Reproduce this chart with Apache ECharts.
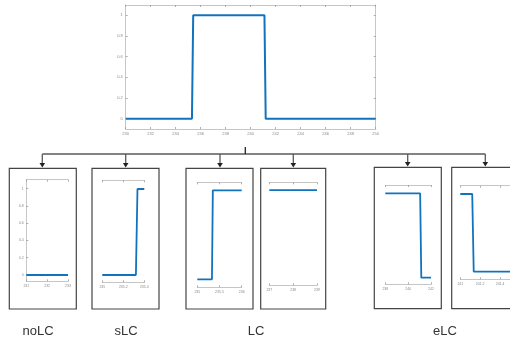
<!DOCTYPE html>
<html>
<head>
<meta charset="utf-8">
<script src="https://cdn.jsdelivr.net/npm/echarts@6/dist/echarts.min.js"></script>
<style>
  html, body { margin: 0; padding: 0; background: #fff; }
  #c { width: 510px; height: 343px; }
</style>
</head>
<body>
<div id="c"></div>
<script>
// Full rectangular pulse
const pulseX = [230, 235.3, 235.4, 241.1, 241.2, 250];
const pulseY = [0, 0, 1, 1, 0, 0];
const pulseXTicks = [230, 232, 234, 236, 238, 240, 242, 244, 246, 248, 250];
const pulseYTicks = [0, 0.2, 0.4, 0.6, 0.8, 1];

// noLC: window before the pulse
const noLCX = [231, 233];
const noLCY = [0, 0];
const noLCXTicks = [231, 232, 233];
const noLCYTicks = [0, 0.2, 0.4, 0.6, 0.8, 1];

// sLC: window ending just after the rising edge
const sLCX = [235, 235.32, 235.335, 235.4];
const sLCY = [0, 0, 1, 1];
const sLCXTicks = [235, 235.2, 235.4];

// LC: window containing the rising edge, and a window inside the pulse
const lcAX = [235, 235.33, 235.35, 236];
const lcAY = [0, 0, 1, 1];
const lcAXTicks = [235, 235.5, 236];
const lcBX = [237, 239];
const lcBY = [1, 1];
const lcBXTicks = [237, 238, 239];

// eLC: windows containing the falling edge
const eLCAX = [238, 241.05, 241.15, 242];
const eLCAY = [1, 1, 0, 0];
const eLCAXTicks = [238, 240, 242];
const eLCBX = [241, 241.12, 241.135, 241.5];
const eLCBY = [1, 1, 0, 0];
const eLCBXTicks = [241, 241.2, 241.4];

const groupNames = ['noLC', 'sLC', 'LC', 'eLC'];

const LINE = '#1273bd';
const AXIS = '#c6c6c6';
const TICK = '#9a9a9a';
const LABEL = '#8a8a8a';

const grids = [], xAxes = [], yAxes = [], series = [];

function zip(xs, ys) { return xs.map((x, i) => [x, ys[i]]); }

function addPanel(box, xs, ys, xRange, xTicks, yRange, yTicks, o) {
  const gi = grids.length;
  grids.push({ left: box[0], top: box[1], width: box[2], height: box[3], containLabel: false });
  const tick = { show: true, inside: true, length: 2, lineStyle: { color: TICK, width: 0.8 }, customValues: xTicks };
  const fmt = v => String(Math.round(v * 1000) / 1000);
  // bottom axis with labels
  xAxes.push({
    type: 'value', gridIndex: gi, position: 'bottom', min: xRange[0], max: xRange[1],
    axisLine: { show: true, onZero: false, lineStyle: { color: AXIS, width: 1 } },
    axisTick: tick,
    axisLabel: { show: true, fontSize: o.fs, color: LABEL, margin: o.xm, customValues: xTicks, formatter: fmt,
                 fontFamily: 'Liberation Sans' },
    splitLine: { show: false }
  });
  // top box edge with mirrored ticks
  xAxes.push({
    type: 'value', gridIndex: gi, position: 'top', min: xRange[0], max: xRange[1],
    axisLine: { show: true, onZero: false, lineStyle: { color: AXIS, width: 1 } },
    axisTick: tick,
    axisLabel: { show: false },
    splitLine: { show: false }
  });
  const yTick = { show: true, inside: true, length: 2, lineStyle: { color: TICK, width: 0.8 }, customValues: yTicks || [] };
  yAxes.push({
    type: 'value', gridIndex: gi, position: 'left', min: yRange[0], max: yRange[1],
    show: !!o.yLeft,
    axisLine: { show: true, onZero: false, lineStyle: { color: AXIS, width: 1 } },
    axisTick: yTick,
    axisLabel: { show: true, fontSize: o.fs, color: LABEL, margin: o.ym, customValues: yTicks || [], formatter: fmt,
                 fontFamily: 'Liberation Sans' },
    splitLine: { show: false }
  });
  if (o.yRight) {
    yAxes.push({
      type: 'value', gridIndex: gi, position: 'right', min: yRange[0], max: yRange[1],
      axisLine: { show: true, onZero: false, lineStyle: { color: AXIS, width: 1 } },
      axisTick: yTick,
      axisLabel: { show: false },
      splitLine: { show: false }
    });
  }
  series.push({
    type: 'line', xAxisIndex: xAxes.length - 2, yAxisIndex: yAxes.length - (o.yRight ? 2 : 1),
    data: zip(xs, ys), showSymbol: false, symbol: 'none',
    lineStyle: { color: LINE, width: o.lw }, clip: true, animation: false
  });
}

// top chart
addPanel([125.7, 5, 250, 124], pulseX, pulseY, [230, 250], pulseXTicks, [-0.1, 1.1], pulseYTicks,
  { yLeft: true, yRight: true, fs: 4, xm: 3, ym: 3, lw: 2 });
// small windows
addPanel([26.3, 179.7, 41.7, 101.6], noLCX, noLCY, [231, 233], noLCXTicks, [-0.073, 1.104], noLCYTicks,
  { yLeft: true, fs: 3.5, xm: 3, ym: 2.5, lw: 1.8 });
addPanel([102.3, 180.3, 42, 102], sLCX, sLCY, [235, 235.4], sLCXTicks, [-0.085, 1.101], null,
  { fs: 3.5, xm: 3, lw: 1.8 });
addPanel([197.3, 182.3, 44.4, 105], lcAX, lcAY, [235, 236], lcAXTicks, [-0.09, 1.09], null,
  { fs: 3.5, xm: 3, lw: 1.8 });
addPanel([269.3, 182.3, 47.7, 103], lcBX, lcBY, [237, 239], lcBXTicks, [-0.09, 1.09], null,
  { fs: 3.5, xm: 3, lw: 1.8 });
addPanel([385.3, 185, 45.7, 99.3], eLCAX, eLCAY, [238, 242], eLCAXTicks, [-0.079, 1.10], null,
  { fs: 3.5, xm: 3, lw: 1.8 });
addPanel([460.3, 185.7, 50, 93.6], eLCBX, eLCBY, [241, 241.5], eLCBXTicks, [-0.098, 1.107], null,
  { fs: 3.5, xm: 3, lw: 1.8 });

// frames, connectors, arrows and group names
const CONN = '#5a5a5a';
const FRAME = '#444';
const graphics = [];
const frames = [
  [9.3, 168.3, 67, 140.7], [92, 168.3, 67, 140.7], [186, 168.3, 67, 140.7],
  [260.7, 168.3, 65, 140.7], [374.3, 167.3, 67, 141.4], [451.7, 167.3, 67, 141.4]
];
frames.forEach(f => graphics.push({
  type: 'rect', shape: { x: f[0], y: f[1], width: f[2], height: f[3] },
  style: { fill: 'none', stroke: FRAME, lineWidth: 1.2 }, z: 1
}));
graphics.push({ type: 'line', shape: { x1: 42.3, y1: 154, x2: 485.3, y2: 154 }, style: { stroke: CONN, lineWidth: 1.3 } });
graphics.push({ type: 'line', shape: { x1: 245.3, y1: 147, x2: 245.3, y2: 154 }, style: { stroke: '#222', lineWidth: 1.3 } });
const arrowX = [42.3, 125.7, 220, 293.3, 407.7, 485.3];
arrowX.forEach((ax, i) => {
  const tipY = frames[i][1] - 0.8;
  graphics.push({ type: 'line', shape: { x1: ax, y1: 154, x2: ax, y2: tipY - 4 }, style: { stroke: CONN, lineWidth: 1.3 } });
  graphics.push({ type: 'polygon', shape: { points: [[ax - 2.8, tipY - 4.5], [ax + 2.8, tipY - 4.5], [ax, tipY]] },
                  style: { fill: '#222' } });
});
const nameX = [38, 126, 256, 445];
groupNames.forEach((n, i) => graphics.push({
  type: 'text', x: nameX[i], y: 331.5,
  style: { text: n, fill: '#333', font: '13px "Liberation Sans", Arial, sans-serif', textAlign: 'center', textVerticalAlign: 'middle' }
}));

const chart = echarts.init(document.getElementById('c'), null, { renderer: 'canvas' });
chart.setOption({
  animation: false,
  backgroundColor: '#fff',
  grid: grids,
  xAxis: xAxes,
  yAxis: yAxes,
  series: series,
  graphic: graphics
});
</script>
</body>
</html>
